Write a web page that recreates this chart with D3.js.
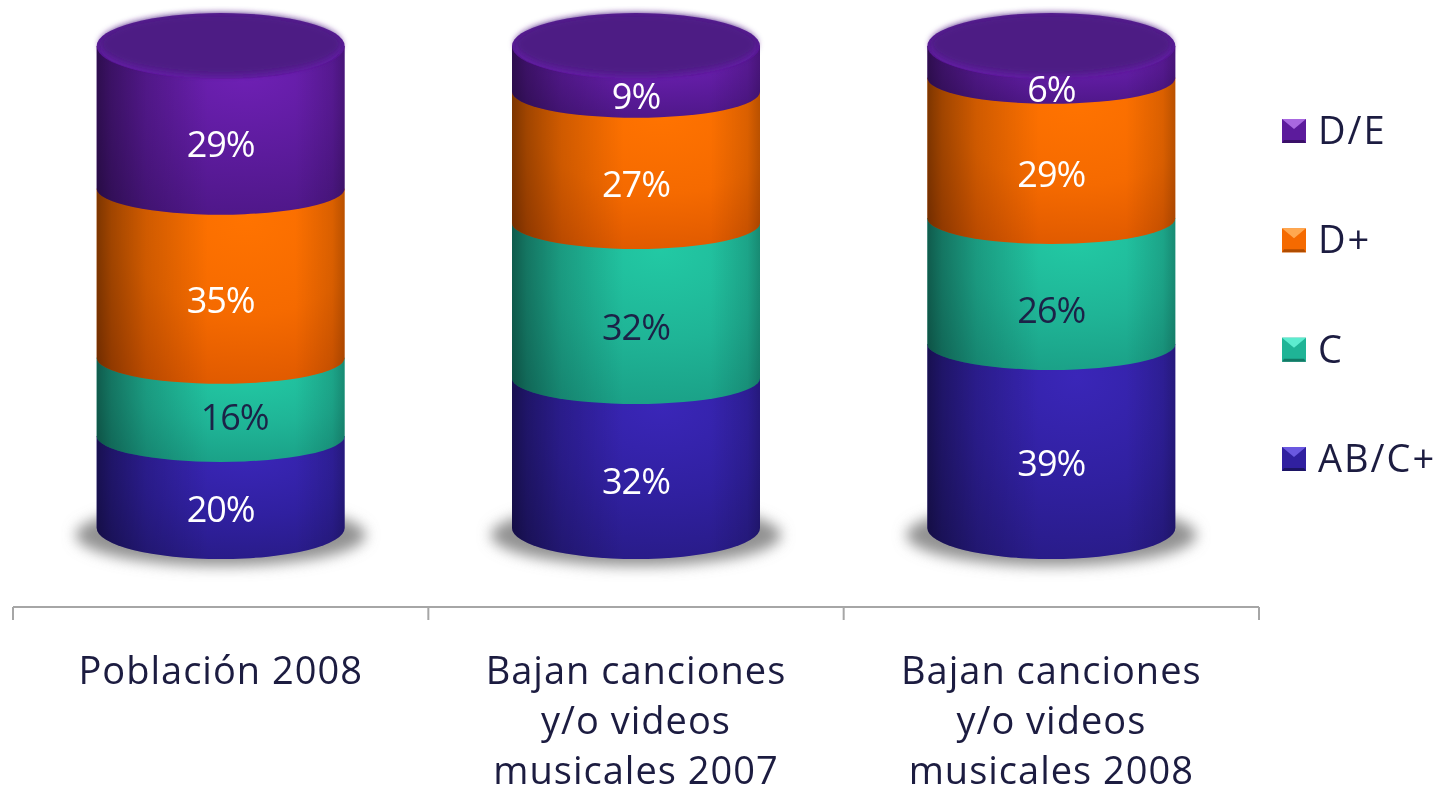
<!DOCTYPE html>
<html><head><meta charset="utf-8">
<script src="https://cdnjs.cloudflare.com/ajax/libs/d3/7.8.5/d3.min.js"></script>
<style>html,body{margin:0;padding:0;background:#fff;overflow:hidden}svg{display:block}
text{font-family:"Open Sans",sans-serif}</style></head><body>
<svg id="c" width="1437" height="787"></svg>
<script>
const categories = ["Población 2008","Bajan canciones|y/o videos|musicales 2007","Bajan canciones|y/o videos|musicales 2008"];
const seriesNames = ["AB/C+","C","D+","D/E"];
const abValues = [19.1,31.1,38.2];
const cValues  = [16.2,32.2,26.1];
const dpValues = [35.1,27.2,29.1];
const deValues = [29.6,9.5,6.6];
const abLabels = ["20%","32%","39%"];
const cLabels  = ["16%","32%","26%"];
const dpLabels = ["35%","27%","29%"];
const deLabels = ["29%","9%","6%"];
const seriesColors = [
 {hi:"#3a26b8",mid:"#3020a0",lo:"#261a80",bev:"#6a58e0",edge:"#1c1464"},
 {hi:"#22c9a4",mid:"#1fb496",lo:"#199a82",bev:"#5ceccf",edge:"#127a66"},
 {hi:"#ff7300",mid:"#f56a00",lo:"#d85400",bev:"#ffa850",edge:"#b04c00"},
 {hi:"#6f20b5",mid:"#5c1b9c",lo:"#4a1682",bev:"#a868e0",edge:"#3a1068"}];

const svg=d3.select("#c"), defs=svg.append("defs");
const rows=categories.map((c,i)=>({cat:c,"AB/C+":abValues[i],"C":cValues[i],"D+":dpValues[i],"D/E":deValues[i]}));
const labels=[abLabels,cLabels,dpLabels,deLabels];
const stacked=d3.stack().keys(seriesNames)(rows);
const x=d3.scaleBand().domain(categories).range([13,1259]);
const y=d3.scaleLinear().domain([0,100]).range([528,46]);
const rx=124, ryMid=26, ryBottom=31, ryTop=33;
const cx=c=>x(c)+x.bandwidth()/2;

seriesColors.forEach((col,i)=>{
  const g=defs.append("radialGradient").attr("id","g"+i).attr("cx",.6).attr("cy",.15).attr("r",1);
  [[0,col.hi],[.5,col.mid],[1,col.lo]].forEach(s=>g.append("stop").attr("offset",s[0]).attr("stop-color",s[1]));
});
const edge=defs.append("linearGradient").attr("id","edge");
[[0,.48],[.06,.34],[.2,.16],[.45,0],[.8,0],[.95,.12],[1,.25]].forEach(s=>edge.append("stop").attr("offset",s[0]).attr("stop-color","#000").attr("stop-opacity",s[1]));
defs.append("filter").attr("id","sh").attr("x","-20%").attr("y","-40%").attr("width","140%").attr("height","180%")
  .append("feGaussianBlur").attr("stdDeviation",7);
defs.append("filter").attr("id","soft").append("feGaussianBlur").attr("stdDeviation",.3);
defs.append("filter").attr("id","bev").attr("x","-5%").attr("y","-10%").attr("width","110%").attr("height","120%")
  .append("feGaussianBlur").attr("stdDeviation",3);

// shadows
svg.append("g").selectAll("ellipse").data(categories).join("ellipse")
  .attr("cx",cx).attr("cy",y(0)+7).attr("rx",rx+21).attr("ry",ryBottom)
  .attr("fill","#929292").attr("filter","url(#sh)");

// segments (painted bottom series first, so each upper one overlaps the one below)
const segPath=(c,y0,y1,ry)=>{const a=cx(c)-rx,b=cx(c)+rx;
  return `M${a},${y1}L${a},${y0}A${rx},${ry} 0 0 0 ${b},${y0}L${b},${y1}Z`;};
const segG=svg.append("g");
stacked.forEach((ser,si)=>{
  ser.forEach(d=>{
    const c=d.data.cat, ry=si===0?ryBottom:ryMid, p=segPath(c,y(d[0]),y(d[1]),ry);
    segG.append("path").attr("d",p).attr("fill",`url(#g${si})`);
    segG.append("path").attr("d",p).attr("fill","url(#edge)");
  });
});

// top caps
const capD=svg.append("g").selectAll("g").data(categories).join("g");
capD.append("ellipse").attr("cx",cx).attr("cy",y(100)).attr("rx",rx).attr("ry",ryTop).attr("fill","#5a1a98");
capD.append("ellipse").attr("cx",cx).attr("cy",y(100)+2).attr("rx",rx-4).attr("ry",ryTop-2).attr("fill","#7426b8").attr("opacity",.35);
capD.append("ellipse").attr("cx",cx).attr("cy",y(100)-2).attr("rx",rx-3).attr("ry",ryTop-2).attr("fill","#4e1a84").attr("filter","url(#bev)");

// value labels
const labelDx={"0-1":14};
const labelDy={"0-1":-7,"2-2":-1,"2-1":2,"1-0":1};
const lab=svg.append("g").attr("font-size",36).attr("text-anchor","middle").attr("filter","url(#soft)");
stacked.forEach((ser,si)=>{
  ser.forEach((d,ci)=>{
    const key=ci+"-"+si;
    lab.append("text")
      .attr("x",cx(d.data.cat)+(labelDx[key]||0))
      .attr("y",(y(d[0])+y(d[1]))/2+27+(labelDy[key]||0)+13)
      .attr("fill",si===1?"#1b2147":"#fff")
      .attr("letter-spacing",-1)
      .text(labels[si][ci]);
  });
});

// axis
const ax=svg.append("g").attr("stroke","#a6a6a6").attr("stroke-width",2);
ax.append("line").attr("x1",x.range()[0]).attr("x2",x.range()[1]).attr("y1",607).attr("y2",607);
const tickXs=categories.map(c=>x(c)).concat(x.range()[1]);
ax.selectAll("line.t").data(tickXs).join("line").attr("class","t")
  .attr("x1",d=>d).attr("x2",d=>d).attr("y1",607).attr("y2",620);

const catG=svg.append("g").attr("font-size",38).attr("fill","#1b1b40").attr("text-anchor","middle").attr("filter","url(#soft)");
categories.forEach(c=>{
  c.split("|").forEach((ln,i)=>{
    catG.append("text").attr("x",cx(c)).attr("y",684+i*50).attr("letter-spacing",1).text(ln);
  });
});

// legend
const legY=d3.scalePoint().domain(seriesNames).range([459,131]);
const leg=svg.append("g").selectAll("g").data(seriesNames).join("g")
  .attr("transform",d=>`translate(1282,${legY(d)-12})`);
const s=24,b=5;
leg.append("rect").attr("width",s).attr("height",s).attr("fill",(d,i)=>seriesColors[i].mid);
leg.append("path").attr("d",`M0,0L${s},0L${s/2},${b+5}Z`).attr("fill",(d,i)=>seriesColors[i].bev);
leg.append("path").attr("d",`M0,${s}L${s},${s}L${s-2},${s-3}L2,${s-3}Z`).attr("fill",(d,i)=>seriesColors[i].edge);
leg.append("text").attr("x",36).attr("y",12+13).attr("font-size",38).attr("fill","#1b1b40").attr("letter-spacing",2).attr("filter","url(#soft)").text(d=>d);
</script></body></html>
